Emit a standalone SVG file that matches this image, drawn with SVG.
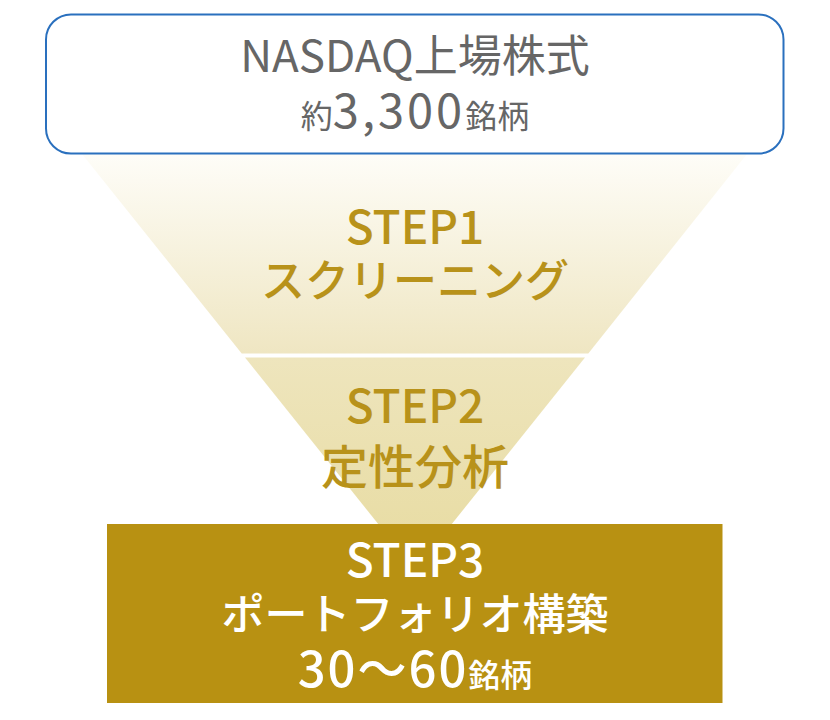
<svg xmlns="http://www.w3.org/2000/svg" width="830" height="720" viewBox="0 0 830 720">
  <style>
    .jp { font-family: "Noto Sans CJK JP", "Noto Sans", sans-serif; text-anchor: middle; }
    .gray { fill: #666666; font-weight: 400; }
    .gold { fill: #b8921a; font-weight: 500; }
    .white { fill: #ffffff; font-weight: 500; }
  </style>
  <defs>
    <linearGradient id="g1" x1="0" y1="0" x2="0" y2="1">
      <stop offset="0" stop-color="#fefdf8"/>
      <stop offset="1" stop-color="#efe6c2"/>
    </linearGradient>
    <linearGradient id="g2" x1="0" y1="0" x2="0" y2="1">
      <stop offset="0" stop-color="#eee5bd"/>
      <stop offset="1" stop-color="#e7dba0"/>
    </linearGradient>
  </defs>

  <g id="step1">
    <polygon points="82,154 747,154 588.3,353.5 241.7,353.5" fill="url(#g1)"/>
    <text class="jp gold" font-size="46" x="415" y="244">STEP1</text>
    <text class="jp gold" font-size="44" x="415" y="297">スクリーニング</text>
  </g>

  <g id="step2">
    <polygon points="245,357.5 585,357.5 415,570" fill="url(#g2)"/>
    <text class="jp gold" font-size="46" x="415" y="423">STEP2</text>
    <text class="jp gold" font-size="47" x="415" y="484">定性分析</text>
  </g>

  <g id="universe">
    <rect x="46" y="14.5" width="737.5" height="139" rx="25" ry="25" fill="#ffffff" stroke="#2a70be" stroke-width="2"/>
    <text class="jp gray" font-size="44" x="415" y="72">NASDAQ上場株式</text>
    <text class="jp gray" x="415" y="128"><tspan font-size="32">約</tspan><tspan font-size="47" letter-spacing="3">3,300</tspan><tspan font-size="32">銘柄</tspan></text>
  </g>

  <g id="step3">
    <rect x="107" y="524" width="615.5" height="179" fill="#b89112"/>
    <text class="jp white" font-size="46" x="415" y="577">STEP3</text>
    <text class="jp white" font-size="43" x="415" y="630">ポートフォリオ構築</text>
    <text class="jp white" x="415" y="687"><tspan font-size="49" letter-spacing="2">30〜60</tspan><tspan font-size="32">銘柄</tspan></text>
  </g>

  <g id="connectors"/>
</svg>
